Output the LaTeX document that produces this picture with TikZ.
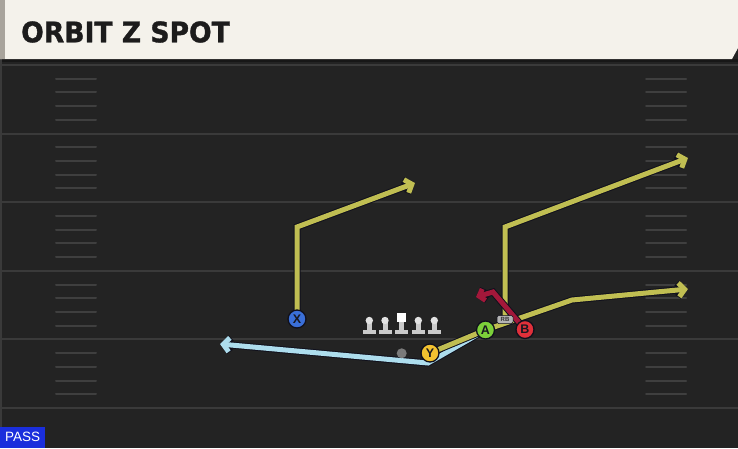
\documentclass[tikz,border=0pt]{standalone}
\usepackage{fontspec}
\setmainfont{Liberation Sans}
\newfontfamily\titlefont[FakeBold=1.2]{DejaVu Sans}
\usetikzlibrary{arrows.meta}
\definecolor{bgc}{HTML}{232323}
\definecolor{headc}{HTML}{F4F2EB}
\definecolor{stripc}{HTML}{A8A49C}
\definecolor{shadowc}{HTML}{171717}
\definecolor{yardc}{HTML}{3A3A3A}
\definecolor{hashc}{HTML}{3F3F3F}
\definecolor{titlec}{HTML}{1C1C1C}
\definecolor{passblue}{HTML}{1A2EDC}
\definecolor{outl}{HTML}{10101C}
\definecolor{yelroute}{HTML}{C0BE52}
\definecolor{bluroute}{HTML}{ADDDED}
\definecolor{redroute}{HTML}{A3183A}
\definecolor{xblue}{HTML}{3A6FD8}
\definecolor{yyel}{HTML}{F2C230}
\definecolor{agreen}{HTML}{7CCF3A}
\definecolor{bred}{HTML}{E0303A}
\definecolor{ptext}{HTML}{181820}
\definecolor{rbgray}{HTML}{B4B4B4}
\definecolor{linegray}{HTML}{CACACA}
\definecolor{linelight}{HTML}{E2E2E2}
\definecolor{qbgray}{HTML}{7A7A7A}
\pgfdeclarelayer{field}
\pgfdeclarelayer{routes}
\pgfsetlayers{field,routes,main}
\tikzset{
  yard/.style={draw=yardc, line width=2pt},
  hashmark/.style={draw=hashc, line width=2pt, line cap=round},
  player/.style={circle, draw=outl, line width=1.3pt, minimum size=18pt, inner sep=0pt,
    font=\bfseries\fontsize{12.5}{12.5}\selectfont, text=ptext},
  routeout/.style={draw=outl, line width=7pt, line join=miter,
    -{Straight Barb[length=6pt, width=14pt, line width=7pt]}},
  routeyel/.style={draw=yelroute, line width=5pt, line join=miter,
    -{Straight Barb[length=6pt, width=14pt, line width=5pt]}},
  routeblu/.style={draw=bluroute, line width=5pt, line join=miter,
    -{Straight Barb[length=6pt, width=14pt, line width=5pt]}},
  routered/.style={draw=redroute, line width=5pt, line join=miter,
    -{Straight Barb[length=5pt, width=12pt, line width=5pt]}},
  routeoutsmall/.style={draw=outl, line width=7pt, line join=miter,
    -{Straight Barb[length=5pt, width=12pt, line width=7pt]}},
}
\begin{document}
\begin{tikzpicture}[x=1pt, y=-1pt]
\useasboundingbox (0,0) rectangle (738,448);
\begin{pgfonlayer}{field}
  \fill[bgc] (0,0) rectangle (738,448);
  \fill[shadowc] (0,59) rectangle (738,62);
  \fill[yardc] (0,59) rectangle (2,448);
  \foreach \k in {0,...,5} {
    \draw[yard] (0,{65+68.6*\k}) -- (738,{65+68.6*\k});
  }
  \foreach \k in {0,...,4} {
    \foreach \j in {1,...,4} {
      \draw[hashmark] (56,{65+68.6*\k+13.72*\j}) -- (96,{65+68.6*\k+13.72*\j});
      \draw[hashmark] (646,{65+68.6*\k+13.72*\j}) -- (686,{65+68.6*\k+13.72*\j});
    }
  }
  \fill[headc] (0,0) -- (738,0) -- (738,48) -- (732,59) -- (0,59) -- cycle;
  \fill[stripc] (0,0) rectangle (5,59);
\end{pgfonlayer}

\node[anchor=base west, inner sep=0pt, text=titlec,
  font=\titlefont\bfseries\fontsize{28.3}{28.3}\selectfont] (title) at (21,42.3)
  {\scalebox{0.94}[1]{ORBIT Z SPOT}};

\node[fill=passblue, text=white, anchor=south west, minimum width=45pt, minimum height=21pt,
  inner sep=0pt, font=\fontsize{13.5}{13.5}\selectfont] (pass) at (0,448) {PASS};

% linemen
\foreach \x in {369.3,385,418.3,434.3} {
  \fill[linegray] (\x-6.5,329.5) rectangle (\x+6.5,334);
  \fill[linegray] (\x-2.5,321) rectangle (\x+2.5,330);
  \fill[linelight] (\x,320.5) circle (3.7pt);
}
\fill[linegray] (401.7-6.5,329.5) rectangle (401.7+6.5,334);
\fill[linegray] (401.7-2.5,321) rectangle (401.7+2.5,330);
\fill[white] (397.2,313) rectangle (406.2,322);
\fill[qbgray] (401.7,353.3) circle (5pt);

% players
\node[player, fill=xblue] (X) at (297,319) {X};
\node[player, fill=yyel] (Y) at (430,353) {Y};
\node[player, fill=agreen] (A) at (485.5,330) {A};
\node[player, fill=bred] (B) at (525,329.5) {B};
\node[rounded corners=1.5pt, fill=rbgray, draw=outl, line width=0.5pt, minimum width=16pt,
  minimum height=8pt, inner sep=0pt, font=\bfseries\fontsize{6}{6}\selectfont, text=black!80]
  (rb) at (505,319.5) {RB};

\coordinate (x1) at (297,227);
\coordinate (x2) at (415,183);
\coordinate (b1) at (505,227);
\coordinate (b2) at (688,158);
\coordinate (y1) at (572,300);
\coordinate (y2) at (688,289);
\coordinate (a1) at (428,363);
\coordinate (a2) at (220,344);
\coordinate (r1) at (493,292);
\coordinate (r2) at (476,297);

\begin{pgfonlayer}{routes}
  \draw[routeout] (A.center) -- (a1) -- (a2);
  \draw[routeblu] (A.center) -- (a1) -- (a2);
  \draw[routeout] (X.center) -- (x1) -- (x2);
  \draw[routeyel] (X.center) -- (x1) -- (x2);
  \draw[routeout] (rb.center) -- (b1) -- (b2);
  \draw[routeyel] (rb.center) -- (b1) -- (b2);
  \draw[routeout] (Y.center) -- (A.center) -- (y1) -- (y2);
  \draw[routeyel] (Y.center) -- (A.center) -- (y1) -- (y2);
  \draw[routeoutsmall] (B.center) -- (r1) -- (r2);
  \draw[routered] (B.center) -- (r1) -- (r2);
\end{pgfonlayer}
\end{tikzpicture}
\end{document}
